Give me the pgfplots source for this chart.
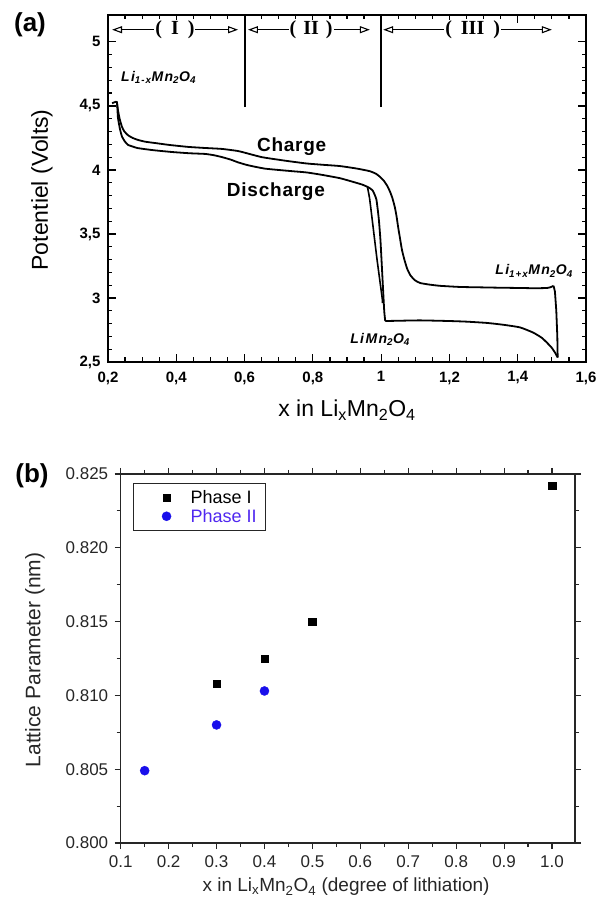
\documentclass[border=0pt]{standalone}
\usepackage{pgfplots}
\pgfplotsset{compat=1.18}
\usetikzlibrary{arrows.meta}
\usepackage{fontspec}
\setmainfont{Liberation Sans}
\newfontfamily\serifrm{Liberation Serif}
\newfontfamily\spacedit[LetterSpace=10]{Liberation Sans}
\newfontfamily\spacedsans[LetterSpace=4]{Liberation Sans}
\definecolor{phaseblue}{RGB}{25,15,235}
\definecolor{phasetext}{RGB}{80,40,240}

\begin{document}
\begin{tikzpicture}[x=1pt,y=1pt]
\useasboundingbox (0,0) rectangle (598,905);
\node[font=\fontsize{26}{30}\selectfont\bfseries] at (30,880) {(a)};
\node[font=\fontsize{26}{30}\selectfont\bfseries] at (32,429) {(b)};

\begin{axis}[
  at={(108pt,543pt)}, anchor=south west,
  scale only axis, width=478pt, height=347pt,
  xmin=0.2, xmax=1.6, ymin=2.5, ymax=5.21,
  xtick={0.2,0.4,0.6,0.8,1,1.2,1.4,1.6},
  ytick={2.5,3,3.5,4,4.5,5},
  minor x tick num=3, minor y tick num=4,
  tick align=inside,
  major tick length=8pt, minor tick length=4.5pt,
  tick style={line width=1.2pt, black},
  axis line style={line width=1.6pt},
  /pgf/number format/assume math mode=true,
  /pgf/number format/use comma,
  ticklabel style={font=\fontsize{15}{17}\selectfont\bfseries},
  xticklabel style={yshift=-6pt},
  yticklabel style={xshift=-4pt},
  xlabel={x in Li\textsubscript{x}Mn\textsubscript{2}O\textsubscript{4}},
  ylabel={Potentiel (Volts)},
  label style={font=\fontsize{23}{27}\selectfont},
  xlabel style={at={(axis description cs:0.5,-0.138)}, anchor=center},
  ylabel style={at={(axis description cs:-0.138,0.496)}, anchor=center},
]
% discharge (lower branch)
\addplot[black, line width=1.8pt, smooth, tension=0.3] coordinates {
(0.212,4.52)(0.226,4.53)(0.229,4.41)(0.235,4.32)(0.241,4.26)(0.250,4.22)
(0.259,4.195)(0.275,4.18)(0.288,4.17)(0.330,4.155)(0.387,4.14)(0.440,4.13)
(0.484,4.125)(0.510,4.115)(0.534,4.10)(0.560,4.08)(0.580,4.06)(0.605,4.04)
(0.630,4.025)(0.660,4.01)(0.698,4.0)(0.740,3.99)(0.783,3.98)(0.830,3.96)
(0.880,3.935)(0.920,3.905)(0.945,3.885)(0.962,3.865)(0.975,3.84)(0.986,3.77)
(0.993,3.62)(0.998,3.45)(1.004,3.15)(1.009,2.90)(1.012,2.82)
};
\addplot[black, line width=1.8pt, smooth, tension=0.3] coordinates {
(1.012,2.82)(1.05,2.822)(1.114,2.825)(1.20,2.82)(1.251,2.815)(1.31,2.805)
(1.36,2.79)(1.407,2.77)(1.445,2.73)(1.47,2.69)(1.486,2.65)(1.50,2.61)
(1.51,2.57)(1.517,2.535)
};
% short relaxation line
\addplot[black, line width=1.6pt, smooth, tension=0.3] coordinates {
(0.960,3.865)(0.966,3.78)(0.973,3.63)(0.988,3.30)(1.003,3.00)(1.004,2.96)
};
% charge (upper branch)
\addplot[black, line width=1.8pt] coordinates {
(1.517,2.535)(1.516,2.70)(1.513,2.90)(1.509,3.05)(1.505,3.095)
};
\addplot[black, line width=1.8pt, smooth, tension=0.3] coordinates {
(1.505,3.095)(1.497,3.085)(1.486,3.078)(1.45,3.076)(1.407,3.078)(1.35,3.08)
(1.29,3.083)(1.231,3.086)(1.172,3.095)(1.14,3.105)(1.114,3.117)(1.098,3.14)
(1.085,3.18)(1.076,3.23)(1.068,3.30)(1.061,3.375)(1.055,3.47)(1.050,3.55)
(1.045,3.64)(1.040,3.71)(1.033,3.78)(1.026,3.83)(1.018,3.875)(1.008,3.915)
(0.997,3.945)(0.985,3.97)(0.967,3.99)(0.930,4.01)(0.880,4.03)(0.830,4.04)
(0.783,4.05)(0.730,4.068)(0.683,4.086)(0.650,4.10)(0.625,4.117)(0.600,4.135)
(0.580,4.148)(0.534,4.164)(0.480,4.172)(0.434,4.18)(0.380,4.195)(0.338,4.21)
(0.310,4.22)(0.288,4.234)(0.272,4.25)(0.259,4.27)(0.248,4.30)(0.241,4.336)
(0.234,4.40)(0.229,4.47)(0.226,4.53)
};
% region separators
\draw[line width=2pt] (axis cs:0.6,4.49) -- (axis cs:0.6,5.21);
\draw[line width=2pt] (axis cs:1.0,4.49) -- (axis cs:1.0,5.21);
\tikzset{regarrow/.style={line width=1.1pt, {Triangle[open,length=10pt,width=7pt]}-{Triangle[open,length=10pt,width=7pt]}},
         regtext/.style={fill=white, inner xsep=1pt, inner ysep=1pt, font=\serifrm\bfseries\fontsize{20}{23}\selectfont}}
\draw[regarrow] (axis cs:0.212,5.095) -- (axis cs:0.581,5.095);
\node[regtext] at (axis cs:0.396,5.095) {(\hspace{9pt}I\hspace{9pt})};
\draw[regarrow] (axis cs:0.610,5.095) -- (axis cs:0.967,5.095);
\node[regtext] at (axis cs:0.795,5.095) {(\hspace{7pt}II\hspace{7pt})};
\draw[regarrow] (axis cs:1.006,5.095) -- (axis cs:1.50,5.095);
\node[regtext] at (axis cs:1.268,5.095) {(\hspace{9pt}III\hspace{9pt})};
% annotations
\node[anchor=base west, font=\spacedit\bfseries\itshape\fontsize{14}{16}\selectfont] at (axis cs:0.228,4.69) {Li\textsubscript{1-x}Mn\textsubscript{2}O\textsubscript{4}};
\node[anchor=base west, inner sep=0pt, font=\spacedsans\bfseries\fontsize{19}{22}\selectfont] at (axis cs:0.636,4.14) {Charge};
\node[anchor=base east, inner sep=0pt, font=\spacedsans\bfseries\fontsize{19}{22}\selectfont] at (axis cs:0.836,3.79) {Discharge};
\node[anchor=base west, inner sep=0pt, font=\spacedit\bfseries\itshape\fontsize{14}{16}\selectfont] at (axis cs:0.909,2.648) {LiMn\textsubscript{2}O\textsubscript{4}};
\node[anchor=base west, inner sep=0pt, font=\spacedit\bfseries\itshape\fontsize{14}{16}\selectfont] at (axis cs:1.334,3.18) {Li\textsubscript{1+x}Mn\textsubscript{2}O\textsubscript{4}};
\end{axis}

\begin{axis}[
  at={(120.7pt,62pt)}, anchor=south west,
  scale only axis, width=454.3pt, height=369pt,
  xmin=0.1, xmax=1.048, ymin=0.8, ymax=0.825,
  xtick={0.1,0.2,0.3,0.4,0.5,0.6,0.7,0.8,0.9,1.0},
  ytick={0.8,0.805,0.81,0.815,0.82,0.825},
  minor x tick num=1, minor y tick num=1,
  tick align=outside,
  major tick length=6pt, minor tick length=4pt,
  tick style={line width=1.1pt, black!85},
  axis line style={line width=1.3pt, black!85},
  /pgf/number format/assume math mode=true,
  xticklabel style={/pgf/number format/fixed, /pgf/number format/fixed zerofill, /pgf/number format/precision=1},
  yticklabel style={/pgf/number format/fixed, /pgf/number format/fixed zerofill, /pgf/number format/precision=3},
  ticklabel style={font=\fontsize{17}{20}\selectfont, text=black!85},
  xticklabel style={yshift=-3pt},
  yticklabel style={xshift=-3pt},
  xlabel={x in Li\textsubscript{x}Mn\textsubscript{2}O\textsubscript{4} (degree of lithiation)},
  ylabel={Lattice Parameter (nm)},
  xlabel style={font=\fontsize{19}{22}\selectfont, text=black!85, at={(axis description cs:0.496,-0.119)}, anchor=center},
  ylabel style={font=\fontsize{21}{24}\selectfont, text=black!85, at={(axis description cs:-0.189,0.496)}, anchor=center},
  legend style={at={(0.027,0.976)}, anchor=north west, draw=black!85, line width=1.2pt,
    font=\fontsize{18}{21}\selectfont, cells={anchor=west}, inner xsep=7pt, inner ysep=5pt},
  legend image code/.code={\path[draw=none,fill=none] (0pt,-5pt) rectangle (48pt,5pt); \draw[#1] plot coordinates {(26pt,0pt)};},
]
\addplot[only marks, mark=square*, black, mark size=3.8pt, mark options={line width=0.3pt}] coordinates {
(0.3,0.8108)(0.4,0.8125)(0.5,0.8150)(1.0,0.8242)
};
\addlegendentry{Phase I}
\addplot[only marks, mark=*, phaseblue, mark size=4.6pt, mark options={line width=0.3pt}] coordinates {
(0.15,0.8049)(0.3,0.8080)(0.4,0.8103)
};
\addlegendentry{\textcolor{phasetext}{Phase II}}
\end{axis}
\end{tikzpicture}
\end{document}
